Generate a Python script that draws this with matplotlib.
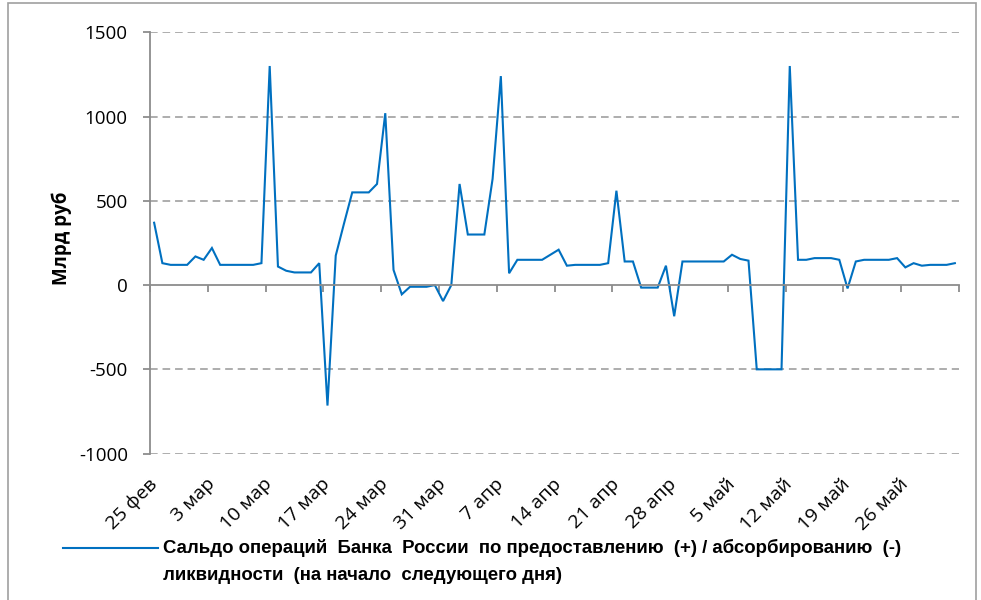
import matplotlib
matplotlib.use("Agg")
import matplotlib.pyplot as plt
from matplotlib.lines import Line2D
from matplotlib.patches import Rectangle
import numpy as np

# Daily values, 25 Feb .. 1 Jun (bn RUB)
values = [370, 130, 120, 120, 120, 170, 150, 220, 120, 120,
          120, 120, 120, 130, 1300, 110, 85, 75, 75, 75,
          130, -715, 175, 365, 550, 550, 550, 600, 1020, 90,
          -55, -10, -10, -10, 0, -95, 0, 600, 300, 300,
          300, 630, 1240, 70, 150, 150, 150, 150, 180, 210,
          115, 120, 120, 120, 120, 130, 560, 140, 140, -15,
          -15, -15, 115, -185, 140, 140, 140, 140, 140, 140,
          180, 155, 145, -500, -500, -500, -500, 1300, 150, 150,
          160, 160, 160, 150, -20, 140, 150, 150, 150, 150,
          160, 105, 130, 115, 120, 120, 120, 130]
tick_labels = ["25 фев", "3 мар", "10 мар", "17 мар", "24 мар", "31 мар", "7 апр",
               "14 апр", "21 апр", "28 апр", "5 май", "12 май", "19 май", "26 май"]
y_ticks = [-1000, -500, 0, 500, 1000, 1500]
series_label = ["Сальдо операций  Банка  России  по предоставлению  (+) / абсорбированию  (-)",
                "ликвидности  (на начало  следующего дня)"]

W, H = 981, 600
fig = plt.figure(figsize=(W / 100, H / 100), dpi=100)
ax = fig.add_axes([150 / W, 1 - 453.6 / H, 809 / W, (453.6 - 32.3) / H])

x = np.arange(len(values))
ax.plot(x, values, color="#0070C0", lw=1.5, solid_joinstyle="miter")

axis_col = "#8C8C8C"
ax.set_xlim(-0.5, len(values) - 0.5)
ax.set_ylim(-1000, 1500)
ax.set_yticks(y_ticks)
ax.set_yticklabels([str(v) for v in y_ticks], fontfamily="Open Sans", fontsize=13.5)
for v in y_ticks:
    if v != 0:
        ax.axhline(v, color="#979797", lw=1.1, dashes=(5, 3.2), zorder=0)

for s in ["top", "right"]:
    ax.spines[s].set_visible(False)
ax.spines["left"].set_color(axis_col)
ax.spines["left"].set_linewidth(1.3)
ax.spines["bottom"].set_position(("data", 0))
ax.spines["bottom"].set_color(axis_col)
ax.spines["bottom"].set_linewidth(1.3)
ax.tick_params(axis="y", direction="out", length=5, width=1.3, color=axis_col, pad=11)
ax.set_xticks(np.arange(-0.5, len(values), 7))
ax.tick_params(axis="x", direction="out", length=5, width=1.3, color=axis_col, labelbottom=False)

sec = ax.secondary_xaxis("bottom")
sec.set_xticks(np.arange(0, len(values), 7))
sec.set_xticklabels(tick_labels, rotation=45, ha="right", va="center",
                    rotation_mode="anchor", fontfamily="Open Sans", fontsize=14)
sec.tick_params(axis="x", length=0, pad=20)
sec.spines["bottom"].set_visible(False)

fig.text(62 / W, 1 - 238 / H, "Млрд руб", rotation=90, ha="center", va="center",
         fontfamily="Open Sans", fontweight="bold", fontsize=13.5)

# legend
fig.add_artist(Line2D([63 / W, 158 / W], [1 - 548 / H, 1 - 548 / H], color="#0070C0", lw=1.5))
for k, line in enumerate(series_label):
    fig.text(163 / W, 1 - (548 + 28 * k) / H, line, ha="left", va="center",
             fontfamily=["Liberation Sans Narrow", "Liberation Sans"], fontweight="bold",
             fontsize=13.4)

fig.add_artist(Rectangle((8 / W, -0.01), (976 - 8) / W, 1.0 + 0.01 - 3 / H,
                         transform=fig.transFigure, fill=False, edgecolor="#A0A0A0", lw=1.2))

fig.savefig("out.png", dpi=100)
